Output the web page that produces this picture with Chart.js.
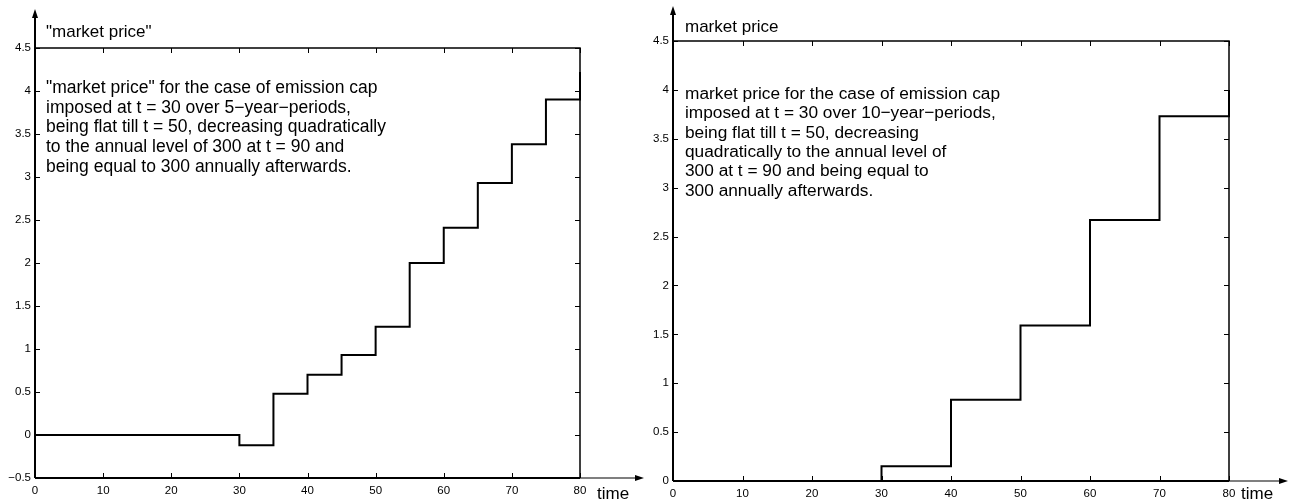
<!DOCTYPE html>
<html lang="en">
  <head>
    <meta charset="UTF-8" />
    <title>market price</title>
    <style>
      html,
      body {
        margin: 0;
        padding: 0;
        background: #fff;
      }
      #leftChart {
        position: absolute;
        left: 0;
        top: 0;
      }
      #rightChart {
        position: absolute;
        left: 650px;
        top: 0;
      }
    </style>
  </head>

  <body>
    <canvas id="leftChart" width="650" height="504"></canvas>
    <canvas id="rightChart" width="644" height="504"></canvas>

    <script src="https://cdn.jsdelivr.net/npm/chart.js@4/dist/chart.umd.min.js"></script>

    <script>
      // left: cap over 5-year periods (start of each period and its price)
      let time5 = [0, 30, 35, 40, 45, 50, 55, 60, 65, 70, 75, 80];
      let price5 = [0, -0.12, 0.48, 0.7, 0.93, 1.26, 2.0, 2.41, 2.93, 3.38, 3.9, 4.22];

      // right: cap over 10-year periods
      let time10 = [0, 30, 40, 50, 60, 70, 80];
      let price10 = [0, 0.15, 0.83, 1.59, 2.67, 3.73, 4.0];

      let leftTitle = '"market price"';
      let leftNotes = [
        '"market price" for the case of emission cap',
        "imposed at t = 30 over 5\u2212year\u2212periods,",
        "being flat till t = 50, decreasing quadratically",
        "to the annual level of 300 at t = 90 and",
        "being equal to 300 annually afterwards.",
      ];

      let rightTitle = "market price";
      let rightNotes = [
        "market price for the case of emission cap",
        "imposed at t = 30 over 10\u2212year\u2212periods,",
        "being flat till t = 50, decreasing",
        "quadratically to the annual level of",
        "300 at t = 90 and being equal to",
        "300 annually afterwards.",
      ];

      let xLabel = "time";
      let fontFamily = "'Liberation Sans', Arial, Helvetica, sans-serif";

      // matlab-ish frame: inward ticks on all sides, arrows, texts
      let decor = {
        id: "decor",
        afterDraw(chart) {
          let o = chart.options.plugins.decor;
          let ctx = chart.ctx;
          let a = chart.chartArea;
          let xs = chart.scales.x;
          let ys = chart.scales.y;
          ctx.save();
          ctx.strokeStyle = "#000";
          ctx.fillStyle = "#000";

          // ticks
          ctx.lineWidth = 1;
          ctx.beginPath();
          xs.ticks.forEach((t) => {
            let px = Math.round(xs.getPixelForValue(t.value)) + 0.5;
            ctx.moveTo(px, a.bottom);
            ctx.lineTo(px, a.bottom - 5);
            ctx.moveTo(px, a.top);
            ctx.lineTo(px, a.top + 5);
          });
          ys.ticks.forEach((t) => {
            let py = Math.round(ys.getPixelForValue(t.value)) + 0.5;
            ctx.moveTo(a.left, py);
            ctx.lineTo(a.left + 5, py);
            ctx.moveTo(a.right, py);
            ctx.lineTo(a.right - 5, py);
          });
          ctx.stroke();

          // box top + right
          ctx.lineWidth = 1.5;
          ctx.beginPath();
          ctx.moveTo(a.left, a.top);
          ctx.lineTo(a.right, a.top);
          ctx.lineTo(a.right, a.bottom);
          ctx.stroke();

          // axes with arrows
          ctx.lineWidth = 2;
          ctx.beginPath();
          ctx.moveTo(a.left, a.bottom);
          ctx.lineTo(a.left, a.top - o.arrowUp);
          ctx.moveTo(a.left, a.bottom);
          ctx.lineTo(a.right, a.bottom);
          ctx.stroke();
          ctx.lineWidth = 1.2;
          ctx.beginPath();
          ctx.moveTo(a.right, a.bottom);
          ctx.lineTo(a.right + o.arrowRight, a.bottom);
          ctx.stroke();

          ctx.beginPath();
          ctx.moveTo(a.left, a.top - o.arrowUp - 4);
          ctx.lineTo(a.left - 3, a.top - o.arrowUp + 5);
          ctx.lineTo(a.left + 3, a.top - o.arrowUp + 5);
          ctx.closePath();
          ctx.fill();
          ctx.beginPath();
          ctx.moveTo(a.right + o.arrowRight + 4, a.bottom);
          ctx.lineTo(a.right + o.arrowRight - 5, a.bottom - 3);
          ctx.lineTo(a.right + o.arrowRight - 5, a.bottom + 3);
          ctx.closePath();
          ctx.fill();

          // texts
          ctx.font = o.noteSize + "px " + fontFamily;
          ctx.textBaseline = "middle";
          ctx.textAlign = "left";
          o.notes.forEach((line, i) => {
            ctx.fillText(line, o.textX, o.notesY + i * o.lineGap);
          });
          ctx.font = "17px " + fontFamily;
          ctx.fillText(o.title, o.textX, o.titleY);
          ctx.fillText(xLabel, a.right + o.timeDx, 494);
          ctx.restore();
        },
      };

      function fmt(v) {
        return String(v).replace("-", "\u2212");
      }

      function makeChart(id, times, prices, yMin, box, decorOpts) {
        let points = times.map((t, i) => ({ x: t, y: prices[i] }));
        return new Chart(id, {
          type: "line",
          data: {
            datasets: [
              {
                data: points,
                borderColor: "#000",
                borderWidth: 2,
                pointRadius: 0,
                stepped: true,
                fill: false,
                clip: false,
              },
            ],
          },
          plugins: [decor],
          options: {
            responsive: false,
            animation: false,
            layout: {
              padding: { top: box.top, right: box.right, left: 0, bottom: 0 },
            },
            plugins: {
              legend: { display: false },
              tooltip: { enabled: false },
              decor: decorOpts,
            },
            scales: {
              x: {
                type: "linear",
                min: 0,
                max: 80,
                grid: { display: false, drawTicks: false },
                border: { display: false },
                ticks: {
                  stepSize: 10,
                  padding: 6,
                  color: "#000",
                  font: { family: fontFamily, size: 11.5 },
                  maxRotation: 0,
                },
                afterFit(scale) {
                  scale.height = box.bottom;
                },
              },
              y: {
                type: "linear",
                min: yMin,
                max: 4.5,
                grid: { display: false, drawTicks: false },
                border: { display: false },
                ticks: {
                  stepSize: 0.5,
                  padding: 4,
                  color: "#000",
                  font: { family: fontFamily, size: 11.5 },
                  callback: (v) => fmt(v),
                },
                afterFit(scale) {
                  scale.width = box.left;
                },
              },
            },
          },
        });
      }

      makeChart("leftChart", time5, price5, -0.5, { left: 35, top: 48, right: 70, bottom: 26 }, {
        title: leftTitle,
        notes: leftNotes,
        noteSize: 17.5,
        textX: 46,
        titleY: 32,
        notesY: 88,
        lineGap: 19.7,
        arrowUp: 35,
        arrowRight: 60,
        timeDx: 17,
      });

      makeChart("rightChart", time10, price10, 0, { left: 23, top: 41, right: 65, bottom: 23 }, {
        title: rightTitle,
        notes: rightNotes,
        noteSize: 17.3,
        textX: 35,
        titleY: 27,
        notesY: 94,
        lineGap: 19.4,
        arrowUp: 31,
        arrowRight: 55,
        timeDx: 12,
      });
    </script>
  </body>
</html>
